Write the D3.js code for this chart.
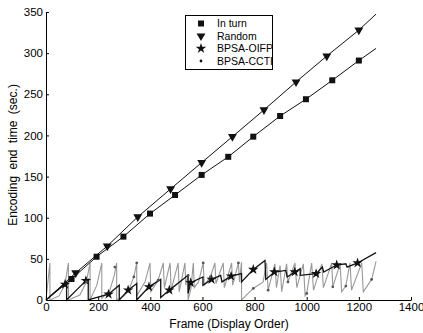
<!DOCTYPE html>
<html>
<head>
<meta charset="utf-8">
<script src="https://cdn.jsdelivr.net/npm/d3@7"></script>
<style>
  body { margin: 0; background: #fff; }
  text { font-family: "Liberation Sans", Arial, sans-serif; fill: #000; }
</style>
</head>
<body>
<svg id="chart" width="423" height="333"></svg>
<script>
// ticks
const xTicks = [0, 200, 400, 600, 800, 1000, 1200, 1400];
const yTicks = [0, 50, 100, 150, 200, 250, 300, 350];

// In turn (squares)
const inTurnX = [0, 98, 194, 297, 399, 495, 597, 699, 795, 898, 997, 1098, 1200, 1266];
const inTurnY = [0, 25.5, 52.6, 77, 105, 127.6, 152, 174, 198.5, 223.6, 244, 267, 291, 305.8];

// Random (triangles)
const randomX = [0, 114, 235, 352, 478, 597, 715, 836, 959, 1077, 1200, 1266];
const randomY = [0, 33, 65.6, 101, 135, 167, 198.5, 231, 265, 296.5, 328, 347.5];

// BPSA-OIFP line (frame, sec)
const oifpLine = [
  [0, 0], [79, 22], [79, 0], [153, 23.5], [162, 25], [162, 0], [240, 7], [281, 18], [281, 0],
  [315, 12], [348, 20], [348, 0], [395, 16], [440, 25], [440, 3], [473, 12], [545, 30], [545, 8],
  [555, 21], [602, 28], [602, 18], [635, 25], [670, 30], [675, 22], [710, 29], [750, 32], [750, 22],
  [795, 37], [840, 48], [843, 25], [876, 34], [920, 36], [925, 28], [954, 34], [975, 38], [975, 30],
  [1036, 32], [1060, 40], [1065, 34], [1115, 42.5], [1150, 44], [1155, 40], [1195, 45], [1266, 57.5]
];
const oifpStars = [
  [73, 19], [153, 23.5], [240, 7], [315, 12], [395, 16], [473, 12], [555, 21], [635, 25],
  [710, 29], [795, 37], [876, 34], [954, 34], [1036, 32], [1115, 42.5], [1195, 45]
];

// BPSA-CCTI line (frame, sec)
const cctiLine = [
  [0, 0], [10, 30], [15, 45], [15, 0], [50, 5], [72, 18], [86, 45], [86, 0], [130, 6], [155, 22],
  [169, 45], [169, 0], [195, 18], [214, 45], [214, 2], [245, 12], [262, 30], [271, 45], [271, 0],
  [300, 5], [320, 14], [337, 28], [348, 45], [348, 5], [380, 22], [399, 45], [402, 10], [430, 24],
  [450, 45], [454, 15], [476, 45], [480, 12], [507, 45], [511, 10], [533, 45], [536, 18], [545, 30],
  [545, 0], [556, 14], [565, 45], [569, 15], [585, 22], [603, 45], [607, 18], [630, 28], [648, 45],
  [652, 20], [680, 45], [684, 15], [712, 45], [716, 18], [738, 45], [742, 22], [750, 46], [750, 0],
  [795, 14], [833, 22], [846, 45], [852, 12], [878, 44], [884, 15], [898, 42], [904, 10], [923, 44],
  [928, 22], [955, 45], [962, 15], [987, 44], [994, 5], [1000, 8], [1019, 45], [1026, 12], [1058, 44],
  [1064, 15], [1096, 45], [1100, 16], [1128, 44], [1134, 10], [1150, 17], [1166, 45], [1172, 12],
  [1211, 45], [1217, 10], [1249, 25], [1266, 47]
];
const cctiDots = [
  [155, 22], [264, 40], [337, 28], [348, 45], [430, 24], [545, 30], [603, 45], [630, 28],
  [738, 45], [795, 14], [852, 12], [928, 22], [1000, 8], [1100, 16], [1150, 17], [1249, 25]
];

const legendLabels = ["In turn", "Random", "BPSA-OIFP", "BPSA-CCTI"];

const svg = d3.select("#chart");
const x = d3.scaleLinear().domain([0, 1400]).range([46, 411]);
const y = d3.scaleLinear().domain([0, 350]).range([300, 12]);

const line = d3.line().x(d => x(d[0])).y(d => y(d[1]));

// gray CCTI line first so black ones sit on top
svg.append("path")
  .datum(cctiLine)
  .attr("d", line)
  .attr("fill", "none")
  .attr("stroke", "#999")
  .attr("stroke-width", 1.1);

svg.append("path")
  .datum(oifpLine)
  .attr("d", line)
  .attr("fill", "none")
  .attr("stroke", "#111")
  .attr("stroke-width", 1.3);

const inTurn = inTurnX.map((v, i) => [v, inTurnY[i]]);
const random = randomX.map((v, i) => [v, randomY[i]]);

svg.append("path").datum(inTurn).attr("d", line)
  .attr("fill", "none").attr("stroke", "#111").attr("stroke-width", 1);
svg.append("path").datum(random).attr("d", line)
  .attr("fill", "none").attr("stroke", "#111").attr("stroke-width", 1);

const sq = d3.symbol().type(d3.symbolSquare).size(36);
const tri = d3.symbol().type(d3.symbolTriangle).size(34);
const star = d3.symbol().type(d3.symbolStar).size(34);
const dot = d3.symbol().type(d3.symbolCircle).size(6);

svg.selectAll(".sq")
  .data(inTurn.slice(1, -1))
  .enter().append("path")
  .attr("class", "sq")
  .attr("d", sq)
  .attr("transform", d => `translate(${x(d[0])},${y(d[1])})`)
  .attr("fill", "#111");

svg.selectAll(".tri")
  .data(random.slice(1, -1))
  .enter().append("path")
  .attr("class", "tri")
  .attr("d", tri)
  .attr("transform", d => `translate(${x(d[0])},${y(d[1])}) rotate(180)`)
  .attr("fill", "#111");

svg.selectAll(".star")
  .data(oifpStars)
  .enter().append("path")
  .attr("class", "star")
  .attr("d", star)
  .attr("transform", d => `translate(${x(d[0])},${y(d[1])})`)
  .attr("fill", "#111");

svg.selectAll(".dot")
  .data(cctiDots)
  .enter().append("path")
  .attr("class", "dot")
  .attr("d", dot)
  .attr("transform", d => `translate(${x(d[0])},${y(d[1])})`)
  .attr("fill", "#555");

/** axes */
const xAxis = svg.append("g")
  .attr("transform", `translate(0,${y(0)})`)
  .call(d3.axisBottom(x).tickValues(xTicks).tickFormat(d3.format("d"))
    .tickSizeInner(-3).tickSizeOuter(0).tickPadding(3));
const yAxis = svg.append("g")
  .attr("transform", `translate(${x(0)},0)`)
  .call(d3.axisLeft(y).tickValues(yTicks).tickFormat(d3.format("d"))
    .tickSizeInner(-3).tickSizeOuter(0).tickPadding(3));

[xAxis, yAxis].forEach(g => {
  g.selectAll("text")
    .style("font-family", '"Liberation Sans", Arial, sans-serif')
    .style("font-size", "11.5px")
    .attr("fill", "#000");
  g.selectAll("line").attr("stroke", "#000");
  g.select(".domain").attr("stroke", "#000");
});

svg.append("text")
  .attr("x", 229)
  .attr("y", 328)
  .attr("text-anchor", "middle")
  .style("font-size", "12px")
  .text("Frame (Display Order)");

svg.append("text")
  .attr("transform", "translate(17,155) rotate(-90)")
  .attr("text-anchor", "middle")
  .style("font-size", "12px")
  .style("word-spacing", "3px")
  .text("Encoding end time (sec.)");

/** legend */
const legend = svg.append("g");
legend.append("rect")
  .attr("x", 185.5).attr("y", 15.5)
  .attr("width", 87).attr("height", 54)
  .attr("fill", "#fff").attr("stroke", "#000").attr("stroke-width", 1);

const legendSymbols = [sq, tri, star, dot];
legendLabels.forEach((label, i) => {
  const ly = 23.5 + i * 12.5;
  legend.append("path")
    .attr("d", legendSymbols[i])
    .attr("transform", `translate(201,${ly})${i === 1 ? " rotate(180)" : ""}`)
    .attr("fill", "#111");
  legend.append("text")
    .attr("x", 217)
    .attr("y", ly + 3.8)
    .style("font-size", "10.5px")
    .text(label);
});
</script>
</body>
</html>
